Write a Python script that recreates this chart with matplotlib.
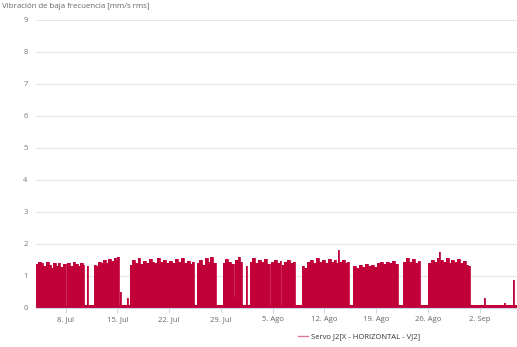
import datetime as dt
import matplotlib
matplotlib.use("Agg")
import matplotlib.pyplot as plt
from matplotlib.lines import Line2D

plt.rcParams['font.family'] = ['Open Sans', 'DejaVu Sans']

start = dt.datetime(2019, 7, 4)

# vibration readings: (days since start, mm/s rms)
series_days = [
    0.0, 0.3, 0.7, 1.0, 1.3, 1.7, 2.0, 2.3, 2.7, 3.0, 3.3, 3.7, 4.0,
    4.1, 4.25, 4.6, 5.0, 5.3, 5.7, 6.0, 6.3,
    6.5, 6.95, 7.05,
    7.8, 8.1, 8.4, 8.8, 9.1, 9.5, 9.8, 10.2, 10.5, 10.8, 11.0,
    11.25, 11.35, 11.45, 12.3, 12.4,
    12.75, 13.0, 13.4, 13.8, 14.1, 14.5, 14.9, 15.3, 15.7, 15.9, 16.0,
    16.4, 16.8, 17.2, 17.6, 18.0, 18.4, 18.8, 19.2, 19.6, 20.0, 20.4,
    20.8, 21.1,
    21.4,
    21.8, 22.1, 22.5, 22.9, 23.3, 23.6, 24.0,
    24.3,
    25.25, 25.6, 26.0, 26.4, 26.85, 26.95, 27.3, 27.6,
    27.9, 28.4, 28.5,
    28.9, 29.2, 29.6, 30.0, 30.4, 30.8, 31.2, 31.7, 31.8, 32.2, 32.6,
    33.0, 33.2, 33.3, 33.5, 33.9, 34.3, 34.7,
    35.1,
    36.0, 36.3, 36.7, 37.1, 37.5, 37.9, 38.3, 38.7, 39.1, 39.5, 39.9,
    40.3, 40.6, 40.9, 41.05, 41.4, 41.8, 42.1,
    42.4,
    42.9, 43.3, 43.7, 44.1, 44.5, 44.9, 45.3, 45.7, 46.1, 46.5, 46.9,
    47.3, 47.7, 48.1, 48.5,
    49.0,
    49.7, 50.1, 50.5, 50.9, 51.3, 51.7,
    52.0,
    53.0, 53.4, 53.8, 54.2, 54.45, 54.6, 55.0, 55.4, 55.8, 56.2, 56.6,
    57.0, 57.4, 57.8, 58.2, 58.5,
    58.75, 60.65, 60.75, 63.35, 63.45, 64.55, 64.65, 66.5,
]
series_vals = [
    1.38, 1.45, 1.42, 1.30, 1.44, 1.35, 1.25, 1.40, 1.30, 1.42, 1.28, 1.36, 1.30,
    0.08, 1.40, 1.32, 1.45, 1.38, 1.30, 1.42, 1.35,
    0.08, 1.30, 0.08,
    1.35, 1.30, 1.45, 1.40, 1.50, 1.42, 1.52, 1.48, 1.55, 1.50, 1.60,
    0.08, 0.50, 0.08, 0.30, 0.08,
    1.35, 1.50, 1.42, 1.55, 1.38, 1.48, 1.40, 1.52, 1.45, 0.08, 1.40,
    1.55, 1.45, 1.50, 1.40, 1.48, 1.42, 1.52, 1.45, 1.55, 1.40, 1.48,
    1.38, 1.45,
    0.08,
    1.40, 1.50, 1.35, 1.55, 1.45, 1.58, 1.42,
    0.08,
    1.40, 1.52, 1.45, 1.38, 0.35, 1.50, 1.60, 1.45,
    0.08, 1.30, 0.08,
    1.45, 1.55, 1.40, 1.50, 1.45, 1.52, 1.38, 0.08, 1.45, 1.50, 1.40,
    1.48, 0.08, 1.35, 1.45, 1.50, 1.40, 1.45,
    0.08,
    1.30, 1.25, 1.45, 1.50, 1.42, 1.55, 1.45, 1.50, 1.40, 1.52, 1.45,
    1.50, 1.40, 1.80, 1.45, 1.50, 1.40, 1.45,
    0.08,
    1.30, 1.25, 1.35, 1.28, 1.38, 1.30, 1.35, 1.28, 1.40, 1.45, 1.38,
    1.45, 1.40, 1.48, 1.38,
    0.08,
    1.45, 1.55, 1.45, 1.52, 1.42, 1.48,
    0.08,
    1.40, 1.50, 1.45, 1.55, 1.75, 1.50, 1.45, 1.55, 1.40, 1.50, 1.45,
    1.52, 1.40, 1.48, 1.35, 1.30,
    0.08, 0.30, 0.08, 0.15, 0.08, 0.87, 0.08, 0.08,
]

tick_dates = [dt.datetime(2019, 7, 8) + dt.timedelta(days=7 * k) for k in range(10)]
tick_labels = ['8. Jul', '15. Jul', '22. Jul', '29. Jul', '5. Ago',
               '12. Ago', '19. Ago', '26. Ago', '2. Sep', '9. Sep']
y_ticks = list(range(10))

title = 'Vibración de baja frecuencia [mm/s rms]'
series_name = 'Servo J2[X - HORIZONTAL - VJ2]'

red = '#c1003a'
W, H = 517, 347
fig = plt.figure(figsize=(W / 100, H / 100), dpi=100)
# the axes runs past the right edge so the last tick label gets cut off
ax = fig.add_axes([36 / W, 39 / H, 495.3 / W, 288 / H])

times = [start + dt.timedelta(days=d) for d in series_days]
ax.fill_between(times, series_vals, step='post', color=red, lw=0)
ax.step(times, series_vals, where='post', color=red, lw=0.6)

ax.set_xlim(start, start + dt.timedelta(days=64))
ax.set_ylim(0, 9)
ax.set_yticks(y_ticks)
ax.set_xticks(tick_dates)
ax.set_xticklabels(tick_labels)
ax.grid(axis='y', color='#e6e6e6', lw=0.8)
ax.set_axisbelow(True)
for s in ['top', 'right', 'left']:
    ax.spines[s].set_visible(False)
ax.spines['bottom'].set_color('#ccd6eb')
ax.spines['bottom'].set_linewidth(0.8)
ax.tick_params(axis='y', length=0, pad=6, labelsize=5.5, labelcolor='#777777')
ax.tick_params(axis='x', length=3.6, width=0.7, color='#ccd6eb', pad=2,
               labelsize=5.5, labelcolor='#666666')

fig.text(2 / W, 1 - 6 / H, title, fontsize=5.7, color='#666666', va='center')

handle = Line2D([], [], color='#e07a92', lw=1.0)
fig.legend([handle], [series_name], loc='center', bbox_to_anchor=(359 / W, 1 - 337 / H),
           frameon=False, fontsize=5.5, handlelength=1.3, handletextpad=0.4,
           labelcolor='#333333')

fig.savefig('out.png', dpi=100)
